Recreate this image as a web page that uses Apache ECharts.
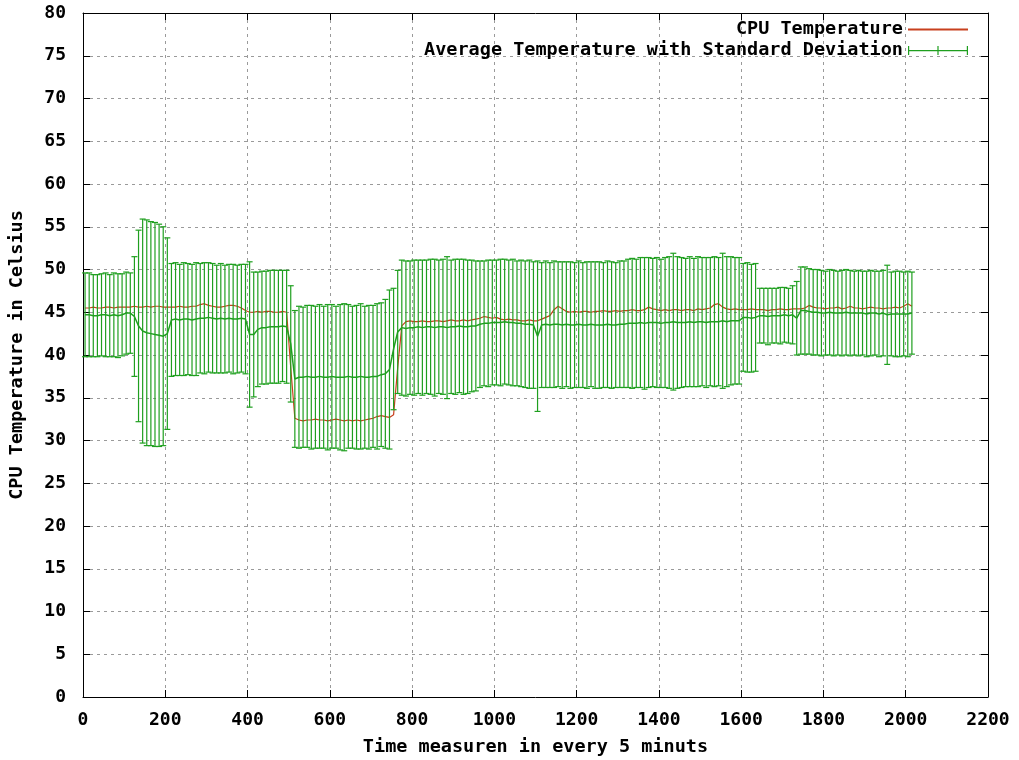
<!DOCTYPE html>
<html>
<head>
<meta charset="utf-8">
<script src="https://cdn.jsdelivr.net/npm/echarts@6/dist/echarts.min.js"></script>
<style>
  html, body { margin: 0; padding: 0; background: #fff; }
  #main { width: 1019px; height: 760px; }
</style>
</head>
<body>
<div id="main"></div>
<script>
  // time axis: one averaged point every 10 samples, starting at 5
  var timeStart = 5;
  var timeStep = 10;

  // average temperature (green line, centre of the error bars)
  var avgTemp = [
    44.7, 44.7, 44.6, 44.6, 44.7, 44.7, 44.6, 44.7, 44.6, 44.7, 44.9, 44.9,
    44.5, 43.4, 42.8, 42.6, 42.5, 42.4, 42.3, 42.2, 42.5,
    44.1, 44.2, 44.1, 44.2, 44.2, 44.1, 44.2, 44.3, 44.3, 44.4, 44.3, 44.2, 44.3, 44.2, 44.3, 44.2, 44.2, 44.3, 44.2,
    42.4, 42.4, 43.0, 43.2, 43.2, 43.3, 43.3, 43.3, 43.4, 43.3,
    41.3, 37.2,
    37.4, 37.4, 37.5, 37.4, 37.4, 37.5, 37.4, 37.4, 37.5, 37.4, 37.4, 37.4, 37.5, 37.4, 37.4, 37.5, 37.4, 37.4, 37.5, 37.5,
    37.7, 37.8, 38.3, 40.7, 42.7, 43.2,
    43.1, 43.2, 43.2, 43.3, 43.2, 43.3, 43.3, 43.2, 43.3, 43.3, 43.2, 43.3, 43.3, 43.4, 43.3, 43.3,
    43.4, 43.4, 43.6, 43.7, 43.7, 43.8, 43.8, 43.8, 43.9, 43.8, 43.8, 43.7, 43.7, 43.6, 43.6, 43.5,
    42.2,
    43.5, 43.6, 43.5, 43.6, 43.6, 43.5, 43.6, 43.5, 43.5, 43.6, 43.5, 43.5, 43.6, 43.5, 43.5, 43.5, 43.6, 43.5, 43.5, 43.6,
    43.6, 43.7, 43.7, 43.7, 43.8, 43.7, 43.8, 43.8, 43.8, 43.7, 43.8, 43.8, 43.9, 43.8, 43.8, 43.8, 43.9, 43.8, 43.9, 43.9,
    43.8, 43.9, 43.9, 43.9, 44.0, 43.9, 44.0, 44.0, 44.0,
    44.4, 44.4, 44.3, 44.4,
    44.6, 44.6, 44.5, 44.6, 44.6, 44.6, 44.7, 44.6, 44.7,
    44.3,
    45.2, 45.2, 45.1, 45.0, 45.0, 44.9, 44.9, 45.0, 44.9, 44.9, 44.9, 45.0, 44.9, 44.9,
    44.9, 44.9, 44.8, 44.9, 44.9, 44.8, 44.9, 44.7, 44.8, 44.8, 44.8, 44.8, 44.8, 44.9
  ];

  // standard deviation (half height of each error bar)
  var stdDev = [
    4.9, 4.9, 4.8, 4.8, 4.8, 4.9, 4.8, 4.9, 4.9, 4.8, 4.8, 4.7,
    7.0, 11.2, 13.1, 13.2, 13.1, 13.1, 13.0, 12.8, 11.2,
    6.6, 6.6, 6.5, 6.6, 6.5, 6.5, 6.6, 6.4, 6.5, 6.4, 6.4, 6.3, 6.4, 6.3, 6.3, 6.4, 6.3, 6.3, 6.4,
    8.5, 7.3, 6.7, 6.6, 6.6, 6.6, 6.6, 6.6, 6.5, 6.6,
    6.8, 8.0,
    8.3, 8.2, 8.3, 8.4, 8.3, 8.4, 8.3, 8.5, 8.4, 8.3, 8.5, 8.6, 8.4, 8.3, 8.4, 8.5, 8.3, 8.4, 8.3, 8.5,
    8.4, 8.7, 9.3, 7.1, 7.2, 7.9,
    7.9, 7.8, 7.9, 7.8, 7.9, 7.8, 7.9, 8.0, 7.8, 7.9, 8.3, 7.8, 7.9, 7.8, 7.9, 7.8,
    7.7, 7.6, 7.4, 7.3, 7.4, 7.3, 7.3, 7.4, 7.3, 7.3, 7.4, 7.3, 7.4, 7.4, 7.5, 7.4,
    8.8,
    7.3, 7.4, 7.3, 7.4, 7.3, 7.4, 7.3, 7.4, 7.3, 7.4, 7.3, 7.4, 7.3, 7.4, 7.4, 7.3, 7.4, 7.4, 7.3, 7.4,
    7.4, 7.5, 7.6, 7.5, 7.6, 7.7, 7.6, 7.5, 7.6, 7.5, 7.6, 7.7, 8.0, 7.7, 7.6, 7.5, 7.6, 7.5, 7.6, 7.5,
    7.6, 7.5, 7.6, 7.5, 7.9, 7.6, 7.5, 7.4, 7.4,
    6.3, 6.4, 6.3, 6.3,
    3.2, 3.2, 3.3, 3.2, 3.2, 3.3, 3.2, 3.2, 3.4,
    4.3,
    5.1, 5.1, 5.0, 5.0, 5.0, 5.0, 4.9, 5.0, 5.0, 4.9, 5.0, 5.0, 5.0, 4.9,
    5.0, 4.9, 5.0, 5.0, 4.9, 5.0, 5.0, 5.8, 4.9, 5.0, 5.0, 4.9, 5.0, 4.8
  ];

  // CPU temperature (red line)
  var cpuTemp = [
    45.5, 45.5, 45.6, 45.5, 45.5, 45.6, 45.6, 45.5, 45.6, 45.6, 45.6, 45.6,
    45.7, 45.6, 45.6, 45.7, 45.6, 45.7, 45.7, 45.6, 45.6,
    45.6, 45.6, 45.7, 45.6, 45.6, 45.7, 45.7, 45.9, 46.0, 45.8, 45.7, 45.6, 45.6, 45.7, 45.8, 45.8, 45.7, 45.5, 45.2,
    45.0, 45.0, 45.1, 45.0, 45.1, 45.1, 45.0, 45.0, 45.1, 45.0,
    38.5, 32.6,
    32.4, 32.3, 32.4, 32.4, 32.5, 32.4, 32.4, 32.3, 32.4, 32.5, 32.4, 32.3, 32.4, 32.3, 32.4, 32.3, 32.4, 32.5, 32.6, 32.8,
    32.9, 32.8, 32.7, 33.0, 38.5, 43.4,
    43.9, 44.0, 43.9, 43.9, 44.0, 43.9, 43.9, 44.0, 44.0, 43.9, 44.0, 44.1, 44.0, 44.0, 44.1, 44.0,
    44.1, 44.2, 44.3, 44.5, 44.4, 44.3, 44.4, 44.2, 44.1, 44.2, 44.1, 44.1, 44.0, 44.0, 44.1, 44.0,
    44.0,
    44.2, 44.4, 44.6, 45.3, 45.7, 45.4, 45.1, 45.0, 45.1, 45.0, 45.1, 45.1, 45.0, 45.1, 45.1, 45.2, 45.1, 45.1, 45.2, 45.1,
    45.2, 45.2, 45.3, 45.2, 45.2, 45.3, 45.6, 45.4, 45.3, 45.2, 45.3, 45.2, 45.3, 45.3, 45.2, 45.3, 45.3, 45.2, 45.4, 45.3,
    45.4, 45.5, 45.9, 46.0, 45.6, 45.4, 45.3, 45.4, 45.3,
    45.3, 45.3, 45.4, 45.3,
    45.3, 45.3, 45.2, 45.3, 45.3, 45.4, 45.3, 45.3, 45.4,
    45.4,
    45.4, 45.5, 45.8, 45.6, 45.5, 45.5, 45.4, 45.5, 45.5, 45.6, 45.4, 45.5, 45.7, 45.5,
    45.5, 45.4, 45.5, 45.6, 45.5, 45.5, 45.4, 45.5, 45.5, 45.6, 45.5, 45.7, 46.0, 45.7
  ];

  var yTicks = ['0', '5', '10', '15', '20', '25', '30', '35', '40', '45', '50', '55', '60', '65', '70', '75', '80'];
  var xTicks = ['0', '200', '400', '600', '800', '1000', '1200', '1400', '1600', '1800', '2000', '2200'];

  var font = 'DejaVu Sans Mono';
  var green = '#1f9f1f';
  var red = '#c8401e';

  var cpuData = [];
  var avgData = [];
  var barData = [];
  for (var i = 0; i < avgTemp.length; i++) {
    var t = timeStart + i * timeStep;
    cpuData.push([t, cpuTemp[i]]);
    avgData.push([t, avgTemp[i]]);
    barData.push([t, avgTemp[i] - stdDev[i], avgTemp[i] + stdDev[i]]);
  }

  function renderErrorBar(params, api) {
    var t = api.value(0);
    var low = api.coord([t, api.value(1)]);
    var high = api.coord([t, api.value(2)]);
    var cap = 3;
    var style = { stroke: green, lineWidth: 1.2, fill: null };
    return {
      type: 'group',
      children: [
        { type: 'line', shape: { x1: low[0], y1: low[1], x2: high[0], y2: high[1] }, style: style },
        { type: 'line', shape: { x1: low[0] - cap, y1: low[1], x2: low[0] + cap, y2: low[1] }, style: style },
        { type: 'line', shape: { x1: high[0] - cap, y1: high[1], x2: high[0] + cap, y2: high[1] }, style: style }
      ]
    };
  }

  var labelStyle = { fontFamily: font, fontWeight: 'bold', fontSize: 18.5, color: '#000' };
  var gridLine = { show: true, lineStyle: { color: '#9a9a9a', type: [3, 4], width: 1 } };

  var myChart = echarts.init(document.getElementById('main'));

  var option = {
    backgroundColor: '#fff',
    animation: false,
    grid: { left: 83, right: 31, top: 13, bottom: 63, outerBoundsMode: 'none' },
    legend: [
      {
        right: 51, top: 20, padding: 0, align: 'right', orient: 'vertical',
        itemWidth: 60, itemHeight: 2,
        textStyle: labelStyle,
        data: [{ name: 'CPU Temperature', icon: 'rect' }]
      },
      {
        right: 51, top: 41, padding: 0, align: 'right', orient: 'vertical',
        itemWidth: 60, itemHeight: 9,
        textStyle: labelStyle,
        data: [{
          name: 'Average Temperature with Standard Deviation',
          icon: 'path://M0,4h60v1.2h-60z M0,0h1.2v9h-1.2z M29.4,0h1.2v9h-1.2z M58.8,0h1.2v9h-1.2z'
        }]
      }
    ],
    xAxis: [
      {
        type: 'value', min: 0, max: 2200, interval: 200,
        name: 'Time measuren in every 5 minuts',
        nameLocation: 'middle', nameGap: 41,
        nameTextStyle: labelStyle,
        axisLine: { show: true, onZero: false, lineStyle: { color: '#000', width: 1 } },
        axisTick: { show: true, inside: true, length: 7, lineStyle: { color: '#000' } },
        axisLabel: {
          fontFamily: font, fontWeight: 'bold', fontSize: 18, color: '#000', margin: 14,
          formatter: function (v) { return xTicks[Math.round(v / 200)]; }
        },
        splitLine: gridLine
      },
      {
        type: 'value', min: 0, max: 2200, interval: 200, position: 'top',
        axisLine: { show: true, onZero: false, lineStyle: { color: '#000', width: 1 } },
        axisTick: { show: true, inside: true, length: 7, lineStyle: { color: '#000' } },
        axisLabel: { show: false },
        splitLine: { show: false }
      }
    ],
    yAxis: [
      {
        type: 'value', min: 0, max: 80, interval: 5,
        name: 'CPU Temperature in Celsius',
        nameLocation: 'middle', nameGap: 56, nameRotate: 90,
        nameTextStyle: labelStyle,
        axisLine: { show: true, onZero: false, lineStyle: { color: '#000', width: 1 } },
        axisTick: { show: true, inside: true, length: 7, lineStyle: { color: '#000' } },
        axisLabel: {
          fontFamily: font, fontWeight: 'bold', fontSize: 18, color: '#000', margin: 17,
          formatter: function (v) { return yTicks[Math.round(v / 5)]; }
        },
        splitLine: gridLine
      },
      {
        type: 'value', min: 0, max: 80, interval: 5, position: 'right',
        axisLine: { show: true, onZero: false, lineStyle: { color: '#000', width: 1 } },
        axisTick: { show: true, inside: true, length: 7, lineStyle: { color: '#000' } },
        axisLabel: { show: false },
        splitLine: { show: false }
      }
    ],
    series: [
      {
        name: 'CPU Temperature',
        type: 'line',
        data: cpuData,
        showSymbol: false,
        color: red,
        lineStyle: { color: red, width: 1.2 },
        z: 2
      },
      {
        name: 'Average Temperature with Standard Deviation',
        type: 'custom',
        data: barData,
        renderItem: renderErrorBar,
        encode: { x: 0, y: [1, 2] },
        color: green,
        itemStyle: { color: green },
        z: 3
      },
      {
        name: 'Average Temperature with Standard Deviation',
        type: 'line',
        data: avgData,
        showSymbol: false,
        color: green,
        lineStyle: { color: green, width: 1.5 },
        z: 4
      }
    ]
  };

  myChart.setOption(option);
</script>
</body>
</html>
